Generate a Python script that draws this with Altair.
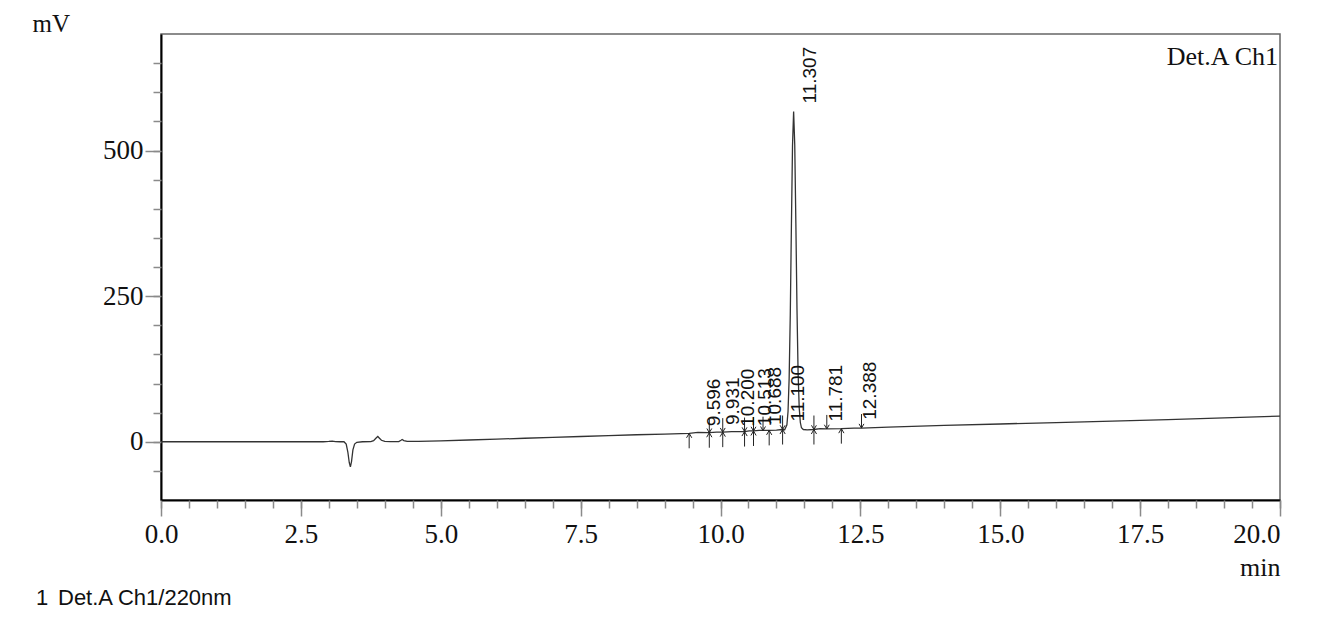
import altair as alt
import pandas as pd

# ---- trace (time in min, signal in mV) ----
time_min = [0.0, 1.0, 2.0, 2.9, 3.0, 3.06, 3.12, 3.2, 3.27, 3.31, 3.34, 3.365, 3.385, 3.405, 3.43, 3.46,
            3.5, 3.6, 3.75, 3.8, 3.845, 3.875, 3.9, 3.94, 4.0, 4.1, 4.25, 4.29, 4.31, 4.34, 4.4, 4.6,
            5.0, 5.5, 6.0, 6.5, 7.0, 7.5, 8.0, 8.5, 9.0, 9.44, 9.596, 9.8, 9.931, 10.04, 10.2, 10.43,
            10.513, 10.59, 10.688, 10.87, 11.0, 11.1, 11.147, 11.187, 11.207, 11.227, 11.247, 11.267,
            11.287, 11.307, 11.327, 11.347, 11.367, 11.387, 11.407, 11.427, 11.447, 11.48, 11.55,
            11.67, 11.781, 11.9, 12.16, 12.388, 12.52, 13.0, 14.0, 15.0, 16.0, 17.0, 18.0, 19.0, 20.0]
signal_mv = [0, 0, 0, 0, 0.5, 1.2, 0.3, 0, 0, -4, -18, -36, -43, -34, -14, -4,
             -1, 0, 0.2, 2, 6.5, 9, 6.5, 2.5, 0.8, 0.3, 0.3, 2.5, 3.8, 2, 0.5, 0.5,
             1.5, 3, 4.5, 6, 7.5, 9, 10.5, 12, 13, 14.5, 16, 15.5, 16.5, 16.5, 17.5, 17.5,
             18.5, 18.5, 19.5, 19.5, 20, 21, 20.5, 29, 52, 109, 217, 368,
             508, 567, 510, 375, 228, 118, 58, 33, 24, 21, 20.5,
             21, 22.5, 22, 22.5, 23.5, 23.5, 25, 28, 30.5, 33, 35.5, 38, 41, 44]

# ---- integration markers ----
up_times = [9.44, 9.80, 10.04, 10.43, 10.59, 10.87, 11.11, 11.67, 12.16]
up_mv = [14.5, 15.5, 16.5, 17.5, 18.5, 19.5, 21, 21, 22.5]
down_times = [9.80, 10.04, 10.43, 10.59, 10.76, 11.11, 11.67, 11.90, 12.52]
down_mv = [15.5, 16.5, 17.5, 18.5, 19, 21, 21, 22, 23.5]

# ---- peak labels ----
peak_rt = [9.596, 9.931, 10.200, 10.513, 10.688, 11.100, 11.307, 11.781, 12.388]
peak_text = ["9.596", "9.931", "10.200", "10.513", "10.688", "11.100", "11.307", "11.781", "12.388"]
label_mv = [13, 15, 12, 13, 15, 21, 567, 21, 24]

# ---- axis ticks ----
x_major = [0.0, 2.5, 5.0, 7.5, 10.0, 12.5, 15.0, 17.5, 20.0]
x_minor = [i * 0.5 for i in range(41)]
y_major = [0, 250, 500]
y_minor = [-50, 0, 50, 100, 150, 200, 250, 300, 350, 400, 450, 500, 550, 600, 650]

W, H = 1119, 466
SERIF = "Liberation Serif"
SANS = "Liberation Sans"
TICK = "#8a8a8a"

trace = pd.DataFrame({"t": time_min, "mv": signal_mv})
ups = pd.DataFrame({"t": up_times, "mv": up_mv})
downs = pd.DataFrame({"t": down_times, "mv": down_mv})
peaks = pd.DataFrame({"t": peak_rt, "mv": label_mv, "lab": peak_text})

xs = alt.Scale(domain=[0, 20], nice=False, zero=False)
ys = alt.Scale(domain=[-100, 700], nice=False, zero=False)

x_main_axis = alt.Axis(
    orient="bottom", values=x_major, format=".1f", labelFlush=False,
    labelAlign={"condition": {"test": "datum.value >= 20", "value": "right"}, "value": "center"},
    tickSize=16, tickColor=TICK, tickWidth=1.5, domainColor="#000", domainWidth=2,
    labelFont=SERIF, labelFontSize=27, labelColor="#111", labelPadding=5, grid=False,
    title="min", titleFont=SERIF, titleFontSize=26, titleFontWeight="normal", titleColor="#111",
    titleX=W, titleY=75, titleAlign="right", titleBaseline="alphabetic",
)
y_main_axis = alt.Axis(
    orient="left", values=y_major, format="d",
    tickSize=16, tickColor=TICK, tickWidth=1.5, domainColor="#000", domainWidth=2,
    labelFont=SERIF, labelFontSize=27, labelColor="#111", labelPadding=2, grid=False,
    title="mV", titleFont=SERIF, titleFontSize=25, titleFontWeight="normal", titleColor="#111",
    titleAngle=0, titleX=-129, titleY=-3, titleAlign="left", titleBaseline="alphabetic",
)
x_minor_axis = alt.Axis(orient="bottom", values=x_minor, tickSize=8, tickColor=TICK, tickWidth=1.5,
                        labels=False, domain=False, grid=False, title=None)
y_minor_axis = alt.Axis(orient="left", values=y_minor, tickSize=8, tickColor=TICK, tickWidth=1.5,
                        labels=False, domain=False, grid=False, title=None)

line = alt.Chart(trace).mark_line(color="#333", strokeWidth=1.3).encode(
    x=alt.X("t:Q", scale=xs, axis=x_main_axis),
    y=alt.Y("mv:Q", scale=ys, axis=y_main_axis),
    order="t:Q",
)

up_arrows = alt.Chart(ups).mark_point(
    shape="M0,0L0,2M-0.35,0.6L0,0L0.35,0.6", size=225, filled=False,
    color="#222", strokeWidth=1, opacity=1,
).encode(
    x=alt.X("t:Q", scale=xs, axis=x_minor_axis),
    y=alt.Y("mv:Q", scale=ys, axis=y_minor_axis),
)

down_arrows = alt.Chart(downs).mark_point(
    shape="M0,0L0,-2M-0.35,-0.6L0,0L0.35,-0.6", size=196, filled=False,
    color="#222", strokeWidth=1, opacity=1,
).encode(
    x=alt.X("t:Q", scale=xs, axis=None),
    y=alt.Y("mv:Q", scale=ys, axis=None),
)

labels = alt.Chart(peaks).mark_text(
    angle=270, align="left", baseline="middle", dx=8, dy=16,
    font=SANS, fontSize=19, color="#111",
).encode(
    x=alt.X("t:Q", scale=xs, axis=None),
    y=alt.Y("mv:Q", scale=ys, axis=None),
    text="lab:N",
)

det = alt.Chart(pd.DataFrame({"txt": ["Det.A Ch1"]})).mark_text(
    align="right", baseline="alphabetic", font=SERIF, fontSize=26, color="#111",
).encode(x=alt.value(W - 2), y=alt.value(31), text="txt:N")

foot_num = alt.Chart(pd.DataFrame({"txt": ["1"]})).mark_text(
    align="left", baseline="alphabetic", font=SANS, fontSize=22, color="#111",
).encode(x=alt.value(-125), y=alt.value(571), text="txt:N")

foot_txt = alt.Chart(pd.DataFrame({"txt": ["Det.A Ch1/220nm"]})).mark_text(
    align="left", baseline="alphabetic", font=SANS, fontSize=22, color="#111",
).encode(x=alt.value(-103), y=alt.value(571), text="txt:N")

chart = alt.layer(line, up_arrows, down_arrows, labels, det, foot_num, foot_txt).resolve_axis(
    x="independent", y="independent"
).properties(
    width=W, height=H,
    padding={"left": 153, "top": 26, "right": 24, "bottom": 112},
    autosize=alt.AutoSizeParams(type="none"),
).configure_view(stroke="#666", strokeWidth=1.5)

chart.save("out.html", embed_options={"renderer": "svg", "actions": False})
